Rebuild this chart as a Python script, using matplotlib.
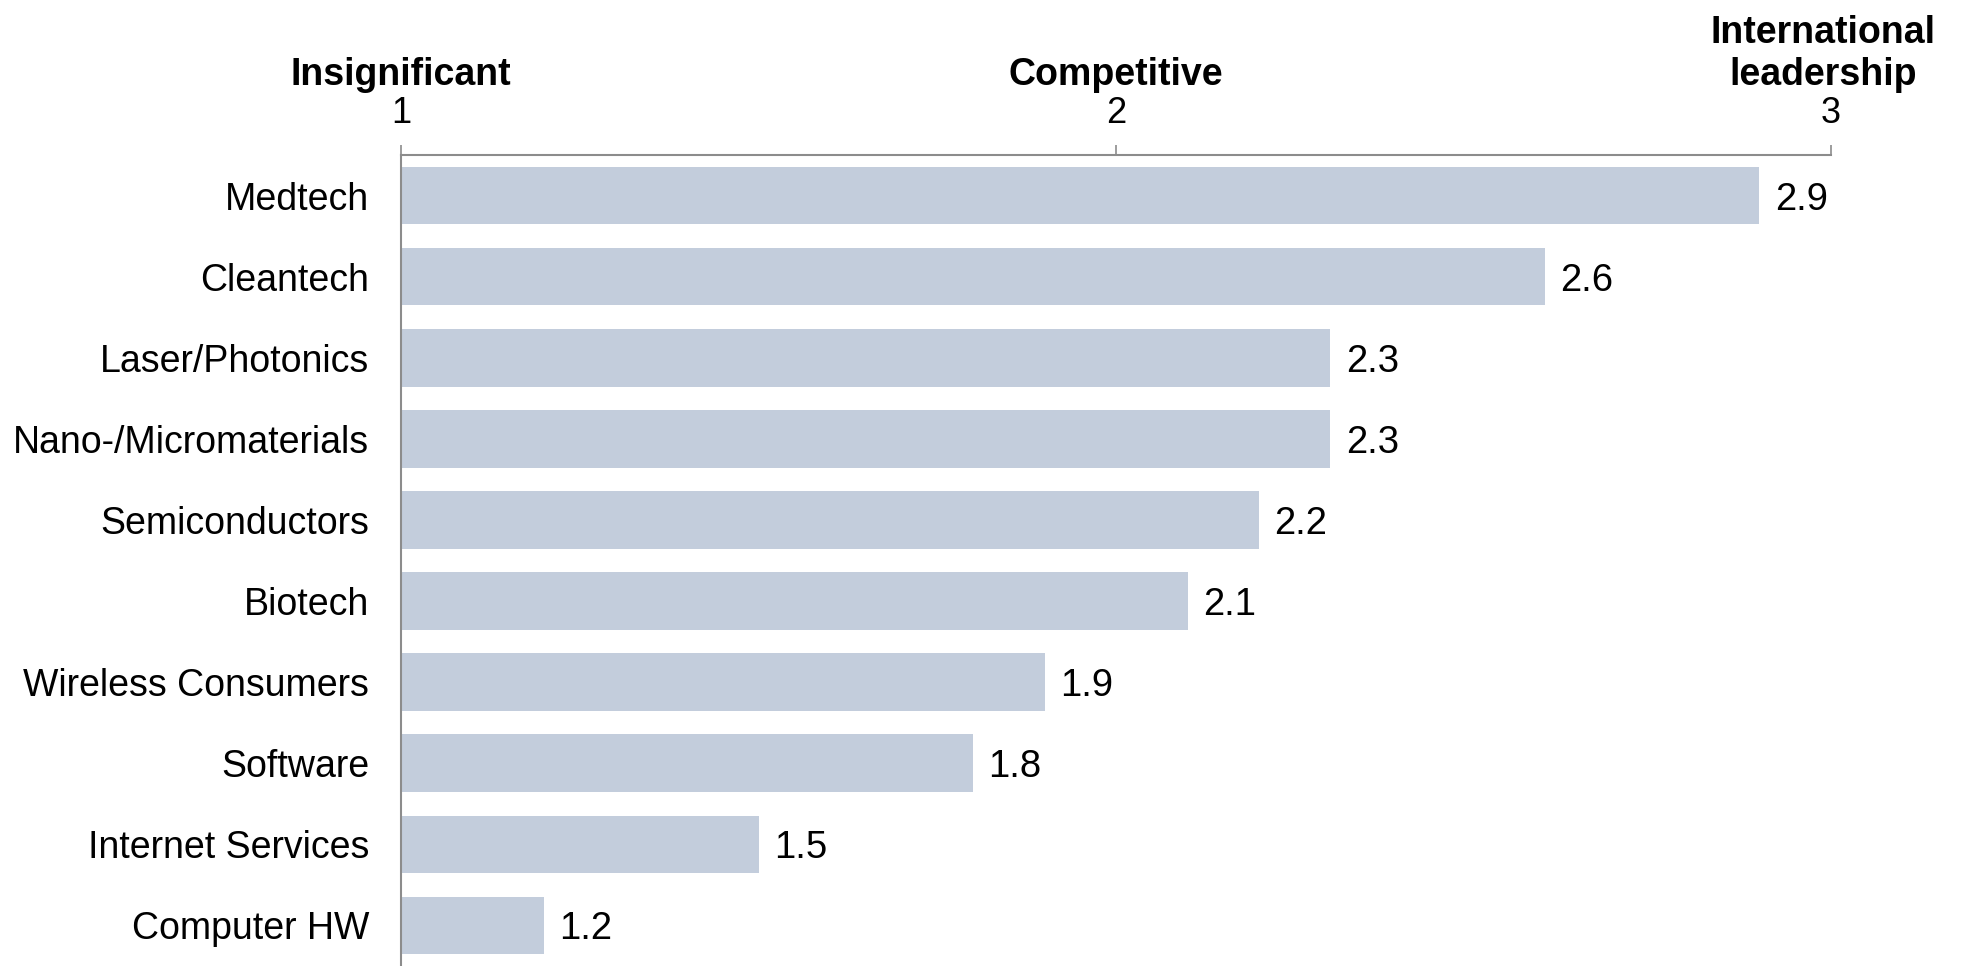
import matplotlib
matplotlib.use("Agg")
import matplotlib.pyplot as plt
import matplotlib.transforms as mtransforms
import numpy as np

plt.rcParams["font.family"] = ["Liberation Sans", "DejaVu Sans"]

# Data
categories = [
    "Medtech",
    "Cleantech",
    "Laser/Photonics",
    "Nano-/Micromaterials",
    "Semiconductors",
    "Biotech",
    "Wireless Consumers",
    "Software",
    "Internet Services",
    "Computer HW",
]
scores = [2.9, 2.6, 2.3, 2.3, 2.2, 2.1, 1.9, 1.8, 1.5, 1.2]
scale_ticks = [1, 2, 3]
scale_names = ["Insignificant", "Competitive", "International\nleadership"]

BAR_COLOR = "#c3cddc"
AXIS_COLOR = "#8c8c8c"

fig = plt.figure(figsize=(19.61, 9.66), dpi=100)
ax = fig.add_axes([0.2045, 0.0, 0.9337 - 0.2045, 0.8395])

y = np.arange(len(categories))
vals = np.array(scores)
bars = ax.barh(y, vals - 1, left=1, height=0.71, color=BAR_COLOR)
value_labels = ax.bar_label(bars, labels=[f"{v:.1f}" for v in scores],
                            padding=11, fontsize=27.5)
for lbl in value_labels:
    lbl.set_va("center_baseline")

ax.set_xlim(1, 3)
ax.set_ylim(9.5, -0.5)

# Scale on top
ax.xaxis.tick_top()
ax.set_xticks(scale_ticks)
ax.set_xticklabels([str(t) for t in scale_ticks])
ax.tick_params(axis="x", which="both", direction="out", length=7, width=1.2,
               color=AXIS_COLOR, labelsize=26, pad=10)
ax.set_yticks(y)
ax.set_yticklabels(categories)
ax.tick_params(axis="y", length=0, labelsize=27, pad=23)

for side in ["right", "bottom"]:
    ax.spines[side].set_visible(False)
for side in ["top", "left"]:
    ax.spines[side].set_color(AXIS_COLOR)
    ax.spines[side].set_linewidth(1.5)

# Scale names above the tick numbers
trans = mtransforms.blended_transform_factory(ax.transData, fig.transFigure)
for t, name in zip(scale_ticks, scale_names):
    label = ax.text(t, 1 - 85 / 966, name, transform=trans, ha="center",
                    va="baseline", fontsize=27, fontweight="bold",
                    linespacing=1.2)
    if "\n" in name:
        # the last header sits a touch left of its tick
        label.set_transform(trans + mtransforms.ScaledTranslation(
            -8 / 100, 0, fig.dpi_scale_trans))

fig.savefig("out.png", dpi=100)
